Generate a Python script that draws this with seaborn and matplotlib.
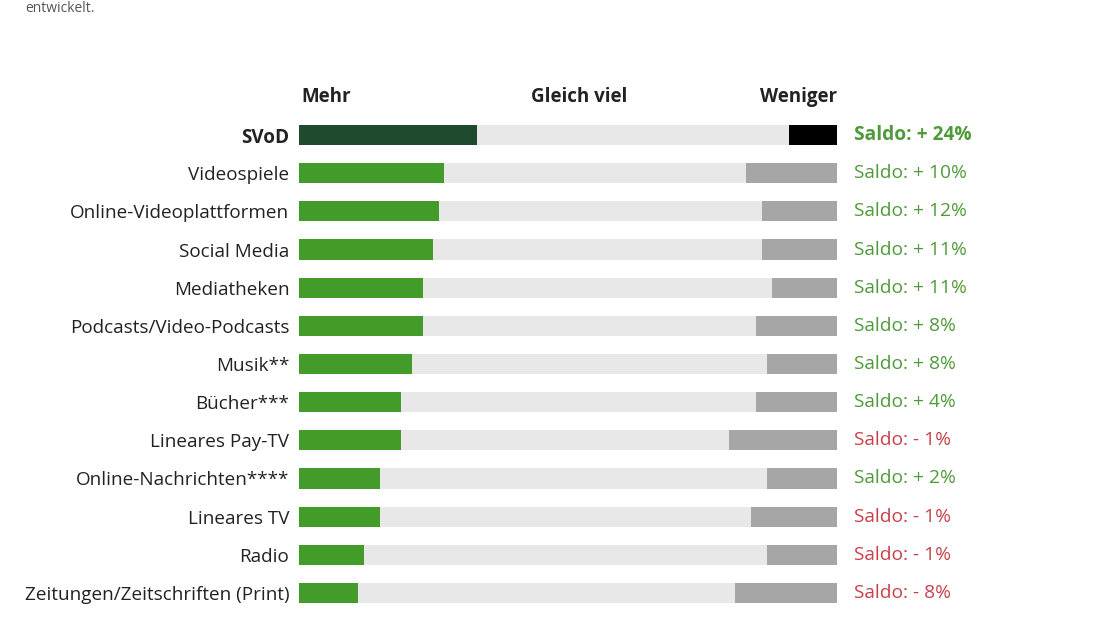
import pandas as pd
import matplotlib.pyplot as plt
import seaborn as sns

kategorien = ["SVoD", "Videospiele", "Online-Videoplattformen", "Social Media", "Mediatheken",
              "Podcasts/Video-Podcasts", "Musik**", "Bücher***", "Lineares Pay-TV",
              "Online-Nachrichten****", "Lineares TV", "Radio", "Zeitungen/Zeitschriften (Print)"]
mehr = [33, 27, 26, 25, 23, 23, 21, 19, 19, 15, 15, 12, 11]
weniger = [9, 17, 14, 14, 12, 15, 13, 15, 20, 13, 16, 13, 19]
saldo = [24, 10, 12, 11, 11, 8, 8, 4, -1, 2, -1, -1, -8]

df = pd.DataFrame({"Kategorie": kategorien, "Mehr": mehr, "Weniger": weniger, "Saldo": saldo})
df["Gesamt"] = 100
df["MehrGleich"] = 100 - df["Weniger"]

sns.set_style("white")
plt.rcParams["font.family"] = ["Open Sans", "DejaVu Sans"]

fig = plt.figure(figsize=(11, 6.18), dpi=100)
ax = fig.add_axes([299 / 1100, 1 - 612 / 618, 538 / 1100, 496 / 618])

farben_weniger = ["#000000"] + ["#a6a6a7"] * (len(df) - 1)
farben_mehr = ["#204a2d"] + ["#439c29"] * (len(df) - 1)

# gestapelte Balken: erst Gesamt (Weniger), dann Mehr+Gleich, dann Mehr
for spalte, farben in [("Gesamt", farben_weniger),
                       ("MehrGleich", ["#e8e8e9"] * len(df)),
                       ("Mehr", farben_mehr)]:
    sns.barplot(data=df, x=spalte, y="Kategorie", hue="Kategorie", palette=farben,
                orient="h", width=0.53, saturation=1, linewidth=0, legend=False, ax=ax)

ax.set_xlim(0, 100)
ax.set_ylim(len(df) - 0.5, -0.5)
ax.set_xlabel("")
ax.set_ylabel("")
ax.set_xticks([])
ax.tick_params(axis="y", length=0, pad=7, labelsize=13.6, labelcolor="#222222")
for lbl in ax.get_yticklabels():
    if lbl.get_text() == "SVoD":
        lbl.set_fontweight("bold")
sns.despine(ax=ax, left=True, bottom=True)

# Saldo-Texte rechts
for i, s in enumerate(df["Saldo"]):
    farbe = "#4f9a3a" if s > 0 else "#c8404a"
    vz = "+" if s > 0 else "-"
    ax.text(103.2, i, f"Saldo: {vz} {abs(s)}%", color=farbe, fontsize=13.8, va="center", ha="left",
            fontweight="bold" if i == 0 else "normal")

# Kopfzeile
ax.text(0.4, -1.0, "Mehr", fontsize=13.5, fontweight="bold", ha="left", va="center", color="#222222")
ax.text(52, -1.0, "Gleich viel", fontsize=13.5, fontweight="bold", ha="center", va="center", color="#222222")
ax.text(100, -1.0, "Weniger", fontsize=13.5, fontweight="bold", ha="right", va="center", color="#222222")

fig.text(25 / 1100, 0.998, "entwickelt.", fontsize=10, color="#555555", ha="left", va="top")

fig.savefig("out.png", dpi=100)
